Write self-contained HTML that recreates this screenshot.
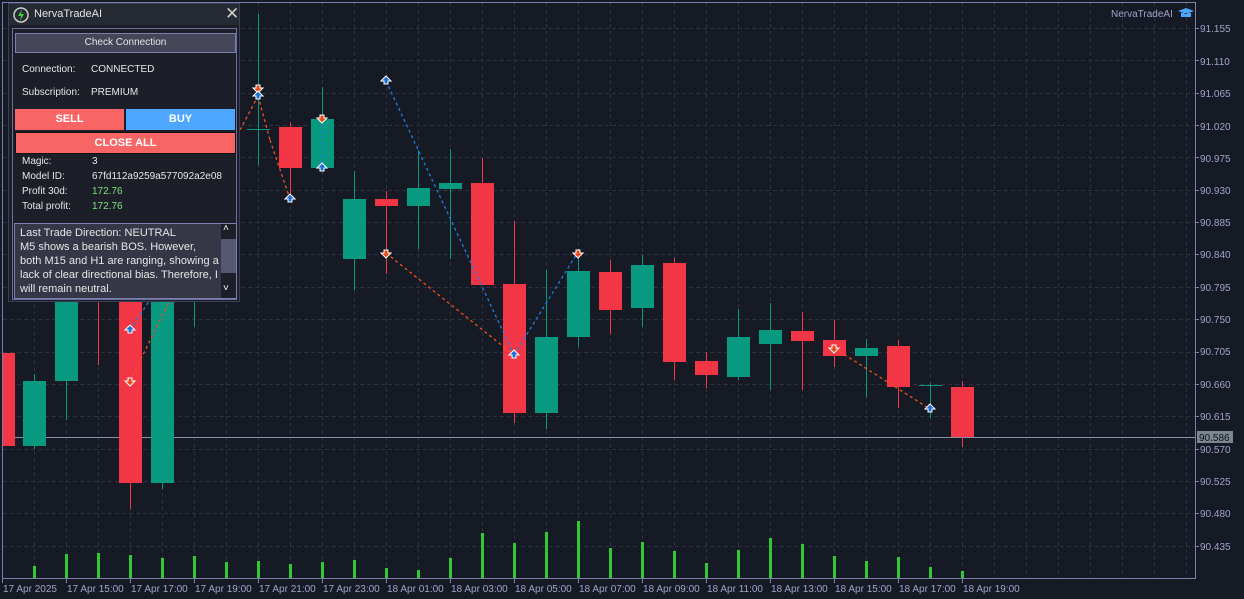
<!DOCTYPE html>
<html><head><meta charset="utf-8"><style>
body{margin:0;background:#161a25;width:1244px;height:599px;overflow:hidden;font-family:"Liberation Sans",sans-serif;}
svg{position:absolute;left:0;top:0}
.ax{font-family:"Liberation Sans",sans-serif;font-size:10px;fill:#9ea4c8}
#panel{position:absolute;left:8px;top:3px;width:232px;height:299px;background:#1c1f28;border:1px solid #3a3f55;box-sizing:border-box;color:#e6e6e6;font-size:10px}
#tb{position:absolute;left:0;top:0;width:230px;height:21px;background:#252a33}
#inner{position:absolute;left:3px;top:24px;width:225px;height:272px;border:1px solid #6a6fa0;box-sizing:border-box}
.a{position:absolute}
</style></head><body>
<svg id="s" width="1244" height="599"></svg>
<svg width="1244" height="599">
<g class="ax">
<text x="1200" y="32">91.155</text><text x="1200" y="65">91.110</text><text x="1200" y="97">91.065</text><text x="1200" y="130">91.020</text><text x="1200" y="162">90.975</text><text x="1200" y="194">90.930</text><text x="1200" y="226">90.885</text><text x="1200" y="258">90.840</text><text x="1200" y="291">90.795</text><text x="1200" y="323">90.750</text><text x="1200" y="355">90.705</text><text x="1200" y="388">90.660</text><text x="1200" y="420">90.615</text><text x="1200" y="453">90.570</text><text x="1200" y="485">90.525</text><text x="1200" y="517">90.480</text><text x="1200" y="550">90.435</text>
<text x="3" y="592">17 Apr 2025</text><text x="67" y="592">17 Apr 15:00</text><text x="131" y="592">17 Apr 17:00</text><text x="195" y="592">17 Apr 19:00</text><text x="259" y="592">17 Apr 21:00</text><text x="323" y="592">17 Apr 23:00</text><text x="387" y="592">18 Apr 01:00</text><text x="451" y="592">18 Apr 03:00</text><text x="515" y="592">18 Apr 05:00</text><text x="579" y="592">18 Apr 07:00</text><text x="643" y="592">18 Apr 09:00</text><text x="707" y="592">18 Apr 11:00</text><text x="771" y="592">18 Apr 13:00</text><text x="835" y="592">18 Apr 15:00</text><text x="899" y="592">18 Apr 17:00</text><text x="963" y="592">18 Apr 19:00</text>
<text x="1111" y="17">NervaTradeAI</text>
</g>
<rect x="1197" y="431" width="36" height="12" fill="#7b8790"/>
<text x="1199" y="441" class="ax" style="fill:#111">90.586</text>
<path d="M1178 11 l8 -3 l8 3 l-8 3z M1181 13 v4 h10 v-4" fill="#4da6ff"/>
</svg>
<div id="panel">
<div id="tb"><svg width="18" height="18" style="left:3px;top:2px"><circle cx="9" cy="9" r="7" fill="none" stroke="#ccc" stroke-width="1.5"/><path d="M10 3 L6 10 H9 L8 15 L12 8 H9z" fill="#3ecf3e"/></svg>
<div class="a" style="left:25px;top:4px;font-size:11px;color:#e6e6e6">NervaTradeAI</div>
<div class="a" style="left:216px;top:0px;font-size:17px;color:#ccc">✕</div></div>
<div id="inner"></div>
<div class="a" style="left:6px;top:29px;width:221px;height:20px;background:#454759;border:1px solid #7b7fb0;box-sizing:border-box;text-align:center;line-height:18px">Check Connection</div>
<div class="a" style="left:13px;top:60px">Connection:</div><div class="a" style="left:82px;top:60px">CONNECTED</div>
<div class="a" style="left:13px;top:83px">Subscription:</div><div class="a" style="left:82px;top:83px">PREMIUM</div>
<div class="a" style="left:6px;top:105px;width:109px;height:21px;background:#f96464;color:#fff;font-weight:bold;text-align:center;line-height:21px;font-size:11px">SELL</div>
<div class="a" style="left:117px;top:105px;width:109px;height:21px;background:#4da6ff;color:#fff;font-weight:bold;text-align:center;line-height:21px;font-size:11px">BUY</div>
<div class="a" style="left:6px;top:128px;width:219px;height:20px;background:#f96464;border:1px solid #111;color:#fff;font-weight:bold;text-align:center;line-height:20px;font-size:11px">CLOSE ALL</div>
<div class="a" style="left:13px;top:152px">Magic:</div><div class="a" style="left:83px;top:152px">3</div>
<div class="a" style="left:13px;top:167px">Model ID:</div><div class="a" style="left:83px;top:167px">67fd112a9259a577092a2e08</div>
<div class="a" style="left:13px;top:182px">Profit 30d:</div><div class="a" style="left:83px;top:182px;color:#7ee07e">172.76</div>
<div class="a" style="left:13px;top:197px">Total profit:</div><div class="a" style="left:83px;top:197px;color:#7ee07e">172.76</div>
<div class="a" style="left:5px;top:219px;width:223px;height:76px;background:#353747;border:1px solid #7b7fb0;box-sizing:border-box;font-size:11px;line-height:14px;padding:2px 0 0 5px;overflow:hidden"><div style="width:200px">Last Trade Direction: NEUTRAL<br>M5 shows a bearish BOS. However, both M15 and H1 are ranging, showing a lack of clear directional bias. Therefore, I will remain neutral.</div></div>
<div class="a" style="left:212px;top:220px;width:15px;height:74px;background:#1c1f28"></div>
<div class="a" style="left:212px;top:235px;width:15px;height:34px;background:#555870"></div>
<div class="a" style="left:214px;top:219px;color:#fff;font-size:10px">˄</div>
<div class="a" style="left:214px;top:279px;color:#fff;font-size:10px">˅</div>
</div>
<script>
const s=document.getElementById('s');let h='';
for(let y=28;y<578;y+=32.35)h+=`<line x1="3" x2="1195" y1="${Math.round(y)+0.5}" y2="${Math.round(y)+0.5}" stroke="#2c3140" stroke-dasharray="4 3"/>`;
for(let x=34;x<1195;x+=32)h+=`<line x1="${x+0.5}" x2="${x+0.5}" y1="3" y2="578" stroke="#2c3140" stroke-dasharray="4 3"/>`;
h+=`<rect x="2.5" y="2.5" width="1193" height="576" fill="none" stroke="#7b80aa"/>`;
for(let x=2;x<1000;x+=64)h+=`<line x1="${x+0.5}" x2="${x+0.5}" y1="578" y2="583" stroke="#7b80aa"/>`;
for(let y=28;y<560;y+=32.35)h+=`<line x1="1195" x2="1199" y1="${Math.round(y)+0.5}" y2="${Math.round(y)+0.5}" stroke="#7b80aa"/>`;
h+=`<line x1="3" x2="1195" y1="437.5" y2="437.5" stroke="#8a8fa8"/>`;
const G='#089981',R='#f23645';
const C=[[5,353,446,353,446,R],[34,381,446,374,449,G],[66,250,381,230,420,G],[98,250,280,200,365,R],[130,250,483,230,509,R],[162,250,483,240,489,G],[194,280,300,260,327,G],[226,150,200,120,260,R],
[258,129,130,14,165,G],[290,127,168,122,200,R],[322,119,168,87,168,G],[354,199,259,171,290,G],[386,199,206,191,274,R],[418,188,206,150,249,G],[450,183,189,149,259,G],[482,183,285,158,285,R],[514,284,413,221,423,R],[546,337,413,270,429,G],[578,271,337,249,347,G],[610,272,310,260,334,R],[642,265,308,255,327,G],[674,263,362,258,380,R],[706,361,375,352,388,R],[738,337,377,309,380,G],[770,330,344,303,390,G],[802,331,341,312,390,R],[834,340,356,320,367,R],[866,348,356,339,397,G],[898,346,387,340,408,R],[930,385,386,383,418,G],[962,387,437,381,447,R]];
for(const[x,bt,bb,wt,wb,c]of C){const w=(x==5)?12:23,l=(x==5)?3:x-11;h+=`<line x1="${x+0.5}" x2="${x+0.5}" y1="${wt}" y2="${wb}" stroke="${c}"/><rect x="${l}" y="${bt}" width="${w}" height="${Math.max(1,bb-bt)}" fill="${c}"/>`;}
const V=[[34,566],[66,554],[98,553],[130,555],[162,558],[194,556],[226,562],[258,561],[290,564],[322,562],[354,560],[386,568],[418,570],[450,558],[482,533],[514,543],[546,532],[578,521],[610,548],[642,542],[674,551],[706,563],[738,550],[770,538],[802,544],[834,556],[866,561],[898,557],[930,567],[962,571]];
for(const[x,y]of V)h+=`<rect x="${x-1}" y="${y}" width="3" height="${578-y}" fill="#32c832"/>`;
const L=(a,c)=>{const p=a.split(' ').map(q=>q.split(',').map(Number));for(let i=0;i<p.length-1;i++)h+=`<line x1="${p[i][0]}" y1="${p[i][1]}" x2="${p[i+1][0]}" y2="${p[i+1][1]}" stroke="${c}" stroke-width="1.3" stroke-dasharray="3 3"/>`;};
L('130,330 170,270','#1e7fe0');L('130,381 170,300','#f0501e');
L('240,130 258,96 270,140 290,199','#f0501e');L('322,118 322,168','#1e7fe0');
L('386,81 514,355 578,252','#1e7fe0');L('386,253 514,355','#f0501e');L('834,348 930,409','#f0501e');
const up=(x,y)=>{h+=`<path d="M${x} ${y-5} l5 5 h-3 v3 h-4 v-3 h-3z" fill="#1e6fd0" stroke="#fff"/>`;};
const dn=(x,y)=>{h+=`<path d="M${x} ${y+5} l5 -5 h-3 v-3 h-4 v3 h-3z" fill="#e64a19" stroke="#fff"/>`;};
up(130,330);dn(130,381);dn(258,88);up(258,96);up(290,199);dn(322,118);up(322,168);up(386,81);dn(386,253);up(514,355);dn(578,253);dn(834,348);up(930,409);
s.innerHTML=h;
</script>
</body></html>
